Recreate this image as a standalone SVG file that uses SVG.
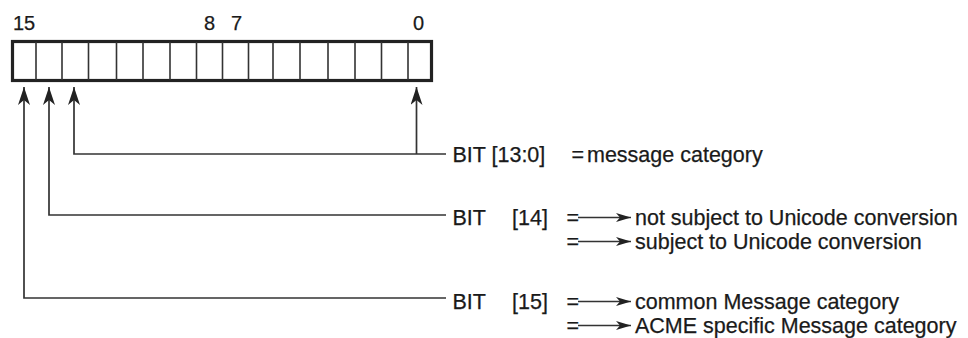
<svg xmlns="http://www.w3.org/2000/svg" width="968" height="338" viewBox="0 0 968 338">
<style>
.t{font-family:"Liberation Sans",Arial,sans-serif;font-size:21.5px;fill:#1a1a1a;stroke:#1a1a1a;stroke-width:0.25}
.n{font-family:"Liberation Sans",Arial,sans-serif;font-size:20px;fill:#1a1a1a;stroke:#1a1a1a;stroke-width:0.25}
.ln{fill:none;stroke:#333;stroke-width:1.7}
.div{stroke:#333;stroke-width:1.6}
</style>
<defs>
<marker id="up" viewBox="0 0 18 12" refX="18" refY="6" markerWidth="18" markerHeight="12" markerUnits="userSpaceOnUse" orient="auto">
<path d="M18,6 L0,0 L5,6 L0,12 Z" fill="#222"/>
</marker>
<marker id="rt" viewBox="0 0 15 9" refX="15" refY="4.5" markerWidth="15" markerHeight="9" markerUnits="userSpaceOnUse" orient="auto">
<path d="M15,4.5 L0,0 L4,4.5 L0,9 Z" fill="#222"/>
</marker>
</defs>

<g id="register">
<text class="n" x="13" y="30">15</text>
<text class="n" x="204" y="30">8</text>
<text class="n" x="231" y="30">7</text>
<text class="n" x="413" y="30">0</text>
<rect x="12.5" y="41.5" width="419" height="39" fill="#fff" stroke="#222" stroke-width="3.2"/>
<path class="div" d="M36,42V80M62,42V80M88.5,42V80M116.5,42V80M143,42V80M170,42V80M196.5,42V80M222.5,42V80M248.5,42V80M273,42V80M300,42V80M328,42V80M355,42V80M381.5,42V80M408,42V80"/>
</g>

<g id="connectors">
<path class="ln" d="M416.5,154V87" marker-end="url(#up)"/>
<path class="ln" d="M446,154H74V87" marker-end="url(#up)"/>
<path class="ln" d="M446,215H49V87" marker-end="url(#up)"/>
<path class="ln" d="M446,298H24V87" marker-end="url(#up)"/>
<path class="ln" d="M578,217.5H631" marker-end="url(#rt)"/>
<path class="ln" d="M578,241.5H631" marker-end="url(#rt)"/>
<path class="ln" d="M578,301.5H631" marker-end="url(#rt)"/>
<path class="ln" d="M578,325.5H631" marker-end="url(#rt)"/>
</g>

<g id="bit13-0">
<text class="t" x="452.5" y="162">BIT</text>
<text class="t" x="491.5" y="162">[13:0]</text>
<text class="t" x="571.5" y="162">=</text>
<text class="t" x="587" y="162">message category</text>
</g>

<g id="bit14">
<text class="t" x="452.5" y="225">BIT</text>
<text class="t" x="512" y="225">[14]</text>
<text class="t" x="566.5" y="225">=</text>
<text class="t" x="635" y="225">not subject to Unicode conversion</text>
<text class="t" x="566.5" y="249">=</text>
<text class="t" x="635" y="249">subject to Unicode conversion</text>
</g>

<g id="bit15">
<text class="t" x="452.5" y="309">BIT</text>
<text class="t" x="512" y="309">[15]</text>
<text class="t" x="566.5" y="309">=</text>
<text class="t" x="635" y="309">common Message category</text>
<text class="t" x="566.5" y="333">=</text>
<text class="t" x="635" y="333">ACME specific Message category</text>
</g>
</svg>
